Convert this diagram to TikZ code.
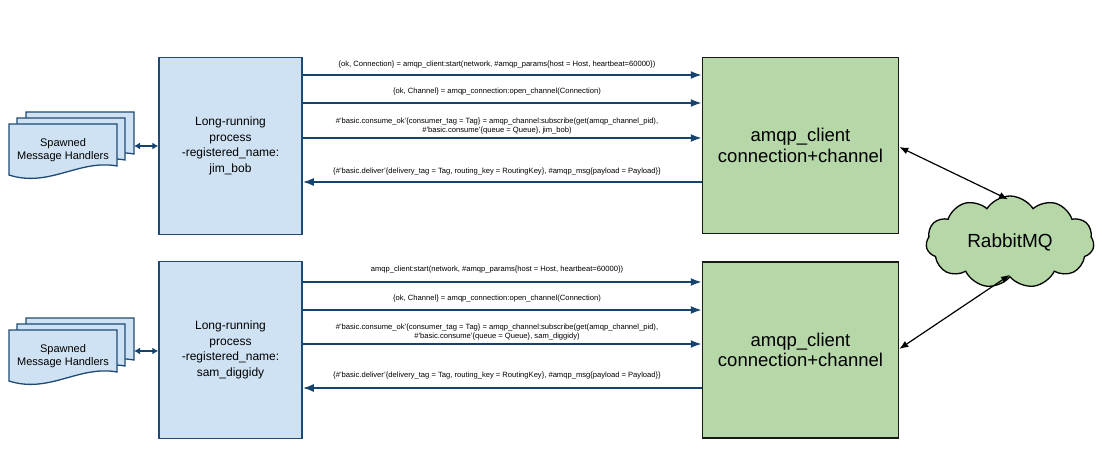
\documentclass[tikz,border=0pt]{standalone}
\usepackage{fontspec}
\setmainfont{Liberation Sans}
\usetikzlibrary{arrows.meta,shapes.symbols,calc}
\definecolor{bfill}{HTML}{CFE2F3}
\definecolor{bline}{HTML}{1F4A75}
\definecolor{gfill}{HTML}{B6D7A8}
\definecolor{aline}{HTML}{16436E}
\newcommand{\hdoc}[2]{%
  \begin{scope}[shift={(#1,#2)}]
    \filldraw[doc] (0,0) -- (108,0) -- (108,42) .. controls (70,35) and (40,64) .. (0,51) -- cycle;
  \end{scope}}
\begin{document}
\begin{tikzpicture}[x=1pt,y=-1pt,
  proc/.style={draw=bline, fill=bfill, line width=1.5pt, minimum width=143pt, minimum height=177pt, align=center, font=\fontsize{12}{15.5}\selectfont, inner sep=0pt},
  conn/.style={draw=black!90, fill=gfill, line width=1.5pt, minimum width=196pt, minimum height=176pt, align=center, font=\fontsize{18.5}{20.5}\selectfont, inner sep=0pt},
  msg/.style={draw=aline, line width=1.8pt, -{Latex[length=11pt,width=8pt]}},
  lbl/.style={font=\fontsize{7.6}{8.6}\selectfont, align=center, inner sep=0pt},
  doc/.style={draw=bline, fill=bfill, line width=1.3pt},
  dbl/.style={draw=aline, line width=1.5pt, {Latex[length=6pt,width=7pt]}-{Latex[length=6pt,width=7pt]}},
  cl/.style={draw=black, line width=1.2pt, {Latex[length=9pt,width=7pt]}-{Latex[length=9pt,width=7pt]}},
  hand/.style={font=\fontsize{11}{12.5}\selectfont, align=center, inner sep=0pt}
]
\useasboundingbox (0,0) rectangle (1102,470);

% processes
\node[proc] (p1) at (230.5,146) {Long-running\\process\\-registered\_name:\\jim\_bob};
\node[proc] (p2) at (230.5,350) {Long-running\\process\\-registered\_name:\\sam\_diggidy};

% connection boxes
\node[conn] (c1) at (800.5,145.5) {amqp\_client\\connection+channel};
\node[conn] (c2) at (800.5,350) {amqp\_client\\connection+channel};

% cloud
\node[cloud, cloud puffs=11, cloud puff arc=115, aspect=1.9, draw=black, fill=gfill, line width=1.3pt, minimum width=168pt, minimum height=92pt, font=\fontsize{19}{21}\selectfont, inner sep=0pt] (mq) at (1010,242) {RabbitMQ};

% handlers
\hdoc{26}{112}
\hdoc{17}{118}
\hdoc{9}{124}
\node[hand] (h1) at (63,150) {Spawned\\Message Handlers};
\hdoc{26}{318}
\hdoc{17}{324}
\hdoc{9}{330}
\node[hand] (h2) at (63,356) {Spawned\\Message Handlers};
\coordinate (h1e) at (134,146);
\coordinate (h2e) at (134,351);
\draw[dbl] (h1e) -- (p1.west |- h1e);
\draw[dbl] (h2e) -- (p2.west |- h2e);

% messages group 1
\draw[msg] (p1.east |- 0,75) -- (c1.west |- 0,75);
\draw[msg] (p1.east |- 0,103) -- (c1.west |- 0,103);
\draw[msg] (p1.east |- 0,138) -- (c1.west |- 0,138);
\draw[msg] (c1.west |- 0,182) -- (p1.east |- 0,182);
\node[lbl] (l11) at (497,65) {\{ok, Connection\} = amqp\_client:start(network, \#amqp\_params\{host = Host, heartbeat=60000\})};
\node[lbl] (l12) at (497,92) {\{ok, Channel\} = amqp\_connection:open\_channel(Connection)};
\node[lbl] (l13) at (497,126) {\#'basic.consume\_ok'\{consumer\_tag = Tag\} = amqp\_channel:subscribe(get(amqp\_channel\_pid),\\\#'basic.consume'\{queue = Queue\}, jim\_bob)};
\node[lbl] (l14) at (497,172) {\{\#'basic.deliver'\{delivery\_tag = Tag, routing\_key = RoutingKey\}, \#amqp\_msg\{payload = Payload\}\}};

% messages group 2
\draw[msg] (p2.east |- 0,282) -- (c2.west |- 0,282);
\draw[msg] (p2.east |- 0,310) -- (c2.west |- 0,310);
\draw[msg] (p2.east |- 0,344) -- (c2.west |- 0,344);
\draw[msg] (c2.west |- 0,388) -- (p2.east |- 0,388);
\node[lbl] (l21) at (497,270) {amqp\_client:start(network, \#amqp\_params\{host = Host, heartbeat=60000\})};
\node[lbl] (l22) at (497,299) {\{ok, Channel\} = amqp\_connection:open\_channel(Connection)};
\node[lbl] (l23) at (497,332) {\#'basic.consume\_ok'\{consumer\_tag = Tag\} = amqp\_channel:subscribe(get(amqp\_channel\_pid),\\\#'basic.consume'\{queue = Queue\}, sam\_diggidy)};
\node[lbl] (l24) at (497,376) {\{\#'basic.deliver'\{delivery\_tag = Tag, routing\_key = RoutingKey\}, \#amqp\_msg\{payload = Payload\}\}};

% cloud links
\draw[cl] (c1.east |- 0,147) -- ($(mq.north)+(-2,4)$);
\draw[cl] ($(mq.south)+(0,-3)$) -- (c2.east |- 0,349);
\end{tikzpicture}
\end{document}
